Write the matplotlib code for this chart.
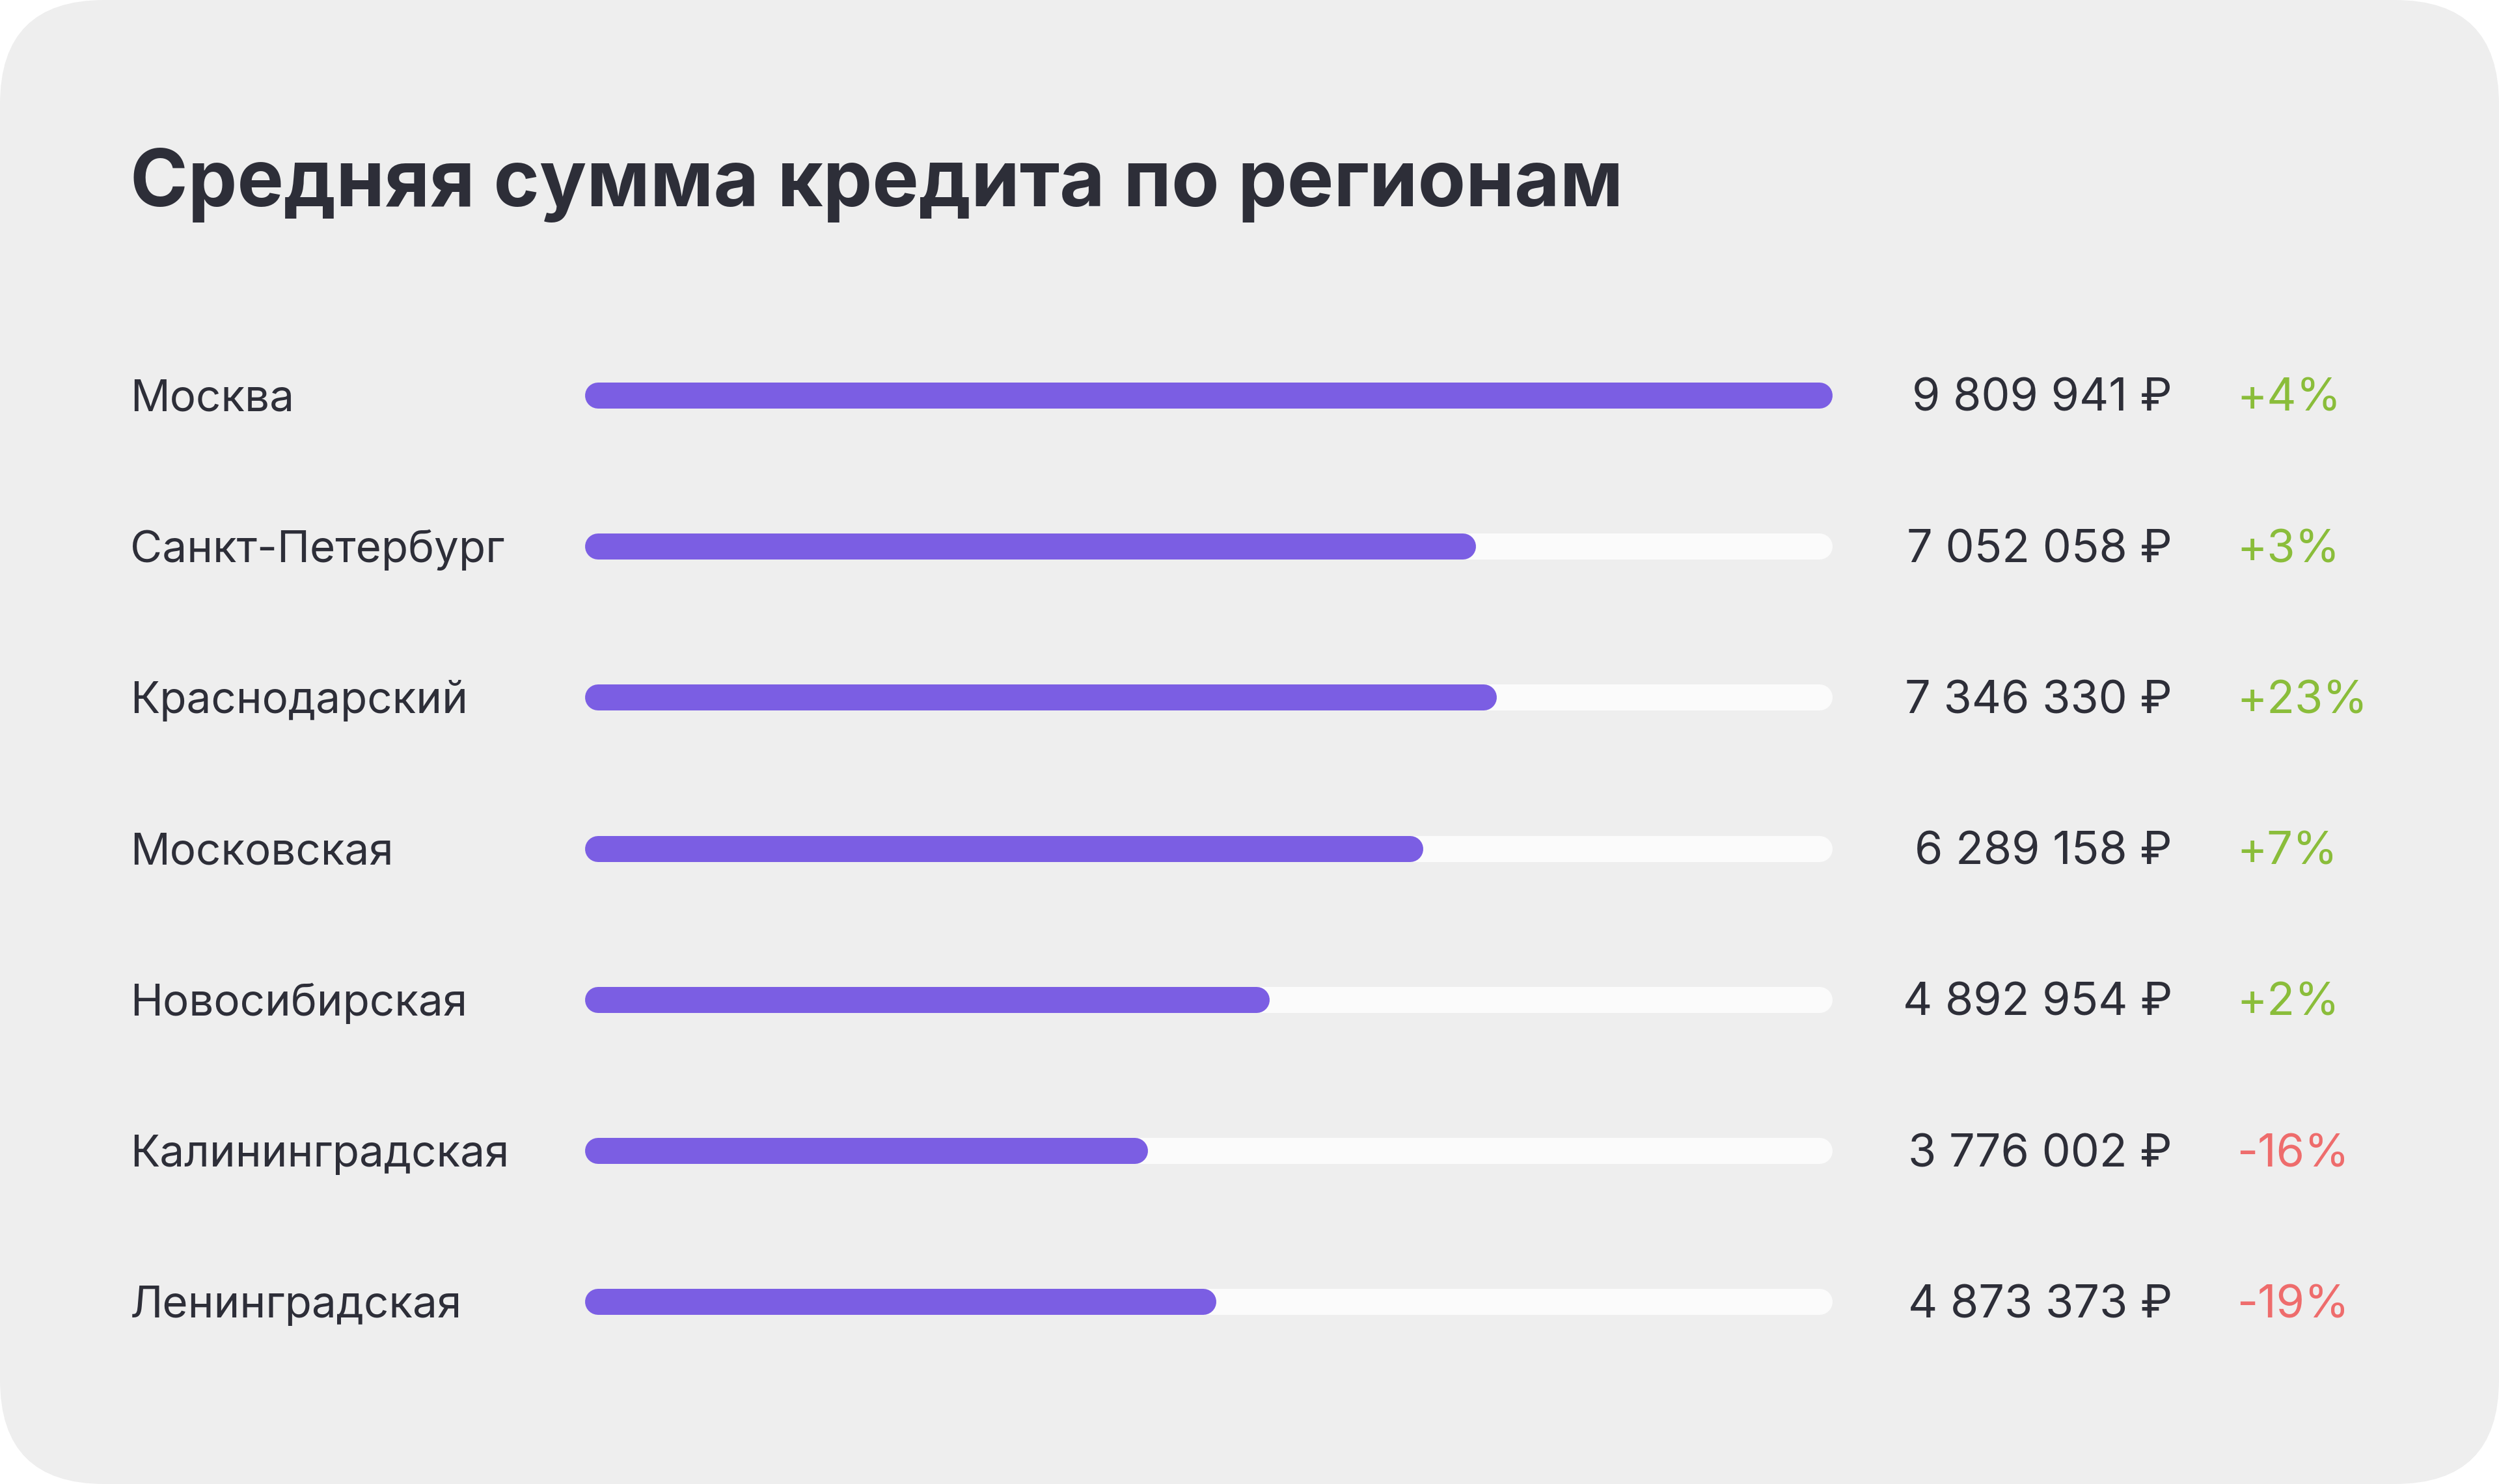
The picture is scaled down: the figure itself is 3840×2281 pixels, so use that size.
#! /usr/bin/env python3

'''
Average loan amount by region: rounded progress bars with values and change.
'''

import matplotlib.pyplot as plt
from matplotlib.patches import FancyBboxPatch


regions = ['Москва', 'Санкт-Петербург', 'Краснодарский', 'Московская',
           'Новосибирская', 'Калининградская', 'Ленинградская']
amounts = [9809941, 7052058, 7346330, 6289158, 4892954, 3776002, 4873373]
changes = [4, 3, 23, 7, 2, -16, -19]
# bar lengths as drawn in the picture, share of the full track
bar_share = [1.0, 0.714, 0.731, 0.672, 0.549, 0.451, 0.506]

title = 'Средняя сумма кредита по регионам'

W, H = 3840, 2281
bg = '#EEEEEE'
track = '#FBFBFB'
purple = '#7B5EE3'
ink = '#2D2E38'
green = '#8ABD3A'
red = '#EE6C6C'

plt.rcParams['font.family'] = ['Inter', 'DejaVu Sans']


def fmt_amount(v: int) -> str:
    return f'{v:,}'.replace(',', ' ') + ' ₽'


def fmt_change(v: int) -> str:
    return f'+{v}%' if v > 0 else f'-{abs(v)}%'


def main():
    fig = plt.figure(figsize=(W / 100, H / 100), dpi=100, facecolor='white')
    ax = fig.add_axes([0, 0, 1, 1])
    ax.set_xlim(0, W)
    ax.set_ylim(H, 0)
    ax.axis('off')

    ax.add_patch(FancyBboxPatch((0, 0), W, H,
                                boxstyle='round,pad=0,rounding_size=160',
                                facecolor=bg, edgecolor='none'))

    ax.text(200, 317, title, fontsize=86.5, fontweight='bold', color=ink,
            va='baseline', ha='left')

    x0, length = 899, 1917
    thick = 40
    r = thick / 2
    lw = thick * 72 / 100
    y0, step = 608, 232.2
    for i, (name, amount, change, share) in enumerate(
            zip(regions, amounts, changes, bar_share)):
        y = y0 + i * step
        ax.plot([x0 + r, x0 + length - r], [y, y], color=track, lw=lw,
                solid_capstyle='round')
        ax.plot([x0 + r, x0 + share * length - r], [y, y], color=purple,
                lw=lw, solid_capstyle='round')
        base = y + 24
        ax.text(200, base, name, fontsize=48.5, color=ink,
                va='baseline', ha='left')
        ax.text(3338, base, fmt_amount(amount), fontsize=50.5, color=ink,
                va='baseline', ha='right')
        ax.text(3437, base, fmt_change(change), fontsize=50.5,
                color=green if change > 0 else red,
                va='baseline', ha='left')

    fig.savefig('out.png', dpi=100, facecolor='white')


if __name__ == '__main__':
    main()
